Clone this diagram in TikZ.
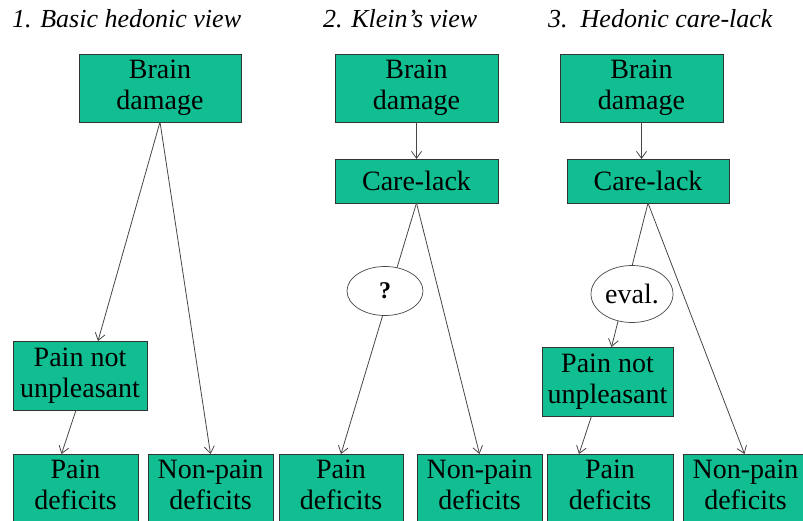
\documentclass[tikz,border=0pt]{standalone}
\usepackage{fontspec}
\setmainfont{Liberation Serif}
\usetikzlibrary{arrows.meta,calc,shapes.geometric}
\definecolor{boxgreen}{RGB}{16,190,145}
\definecolor{linegray}{RGB}{70,70,70}
\begin{document}
\begin{tikzpicture}[x=1pt,y=-1pt,
  box/.style={draw=black!80, line width=0.8pt, fill=boxgreen, anchor=north west,
    inner sep=0pt, outer sep=0pt, align=center,
    font=\fontsize{28}{31}\selectfont},
  lowbox/.style={box, minimum height=78pt, text depth=16pt},
  oval/.style={ellipse, draw=linegray, line width=0.7pt, fill=white,
    inner sep=0pt, outer sep=0pt},
  title/.style={anchor=base west, inner sep=0pt, font=\fontsize{26}{30}\selectfont\itshape},
  link/.style={draw=linegray, line width=0.8pt, -{Straight Barb[length=7pt,width=10pt]}}]
\useasboundingbox (0,0) rectangle (803,521);

% titles
\node[title] (t1) at (12,28) {1. Basic hedonic view};
\node[title] (t2) at (323,28) {2. Klein's view};
\node[title] (t3) at (548,28) {3.\ \ Hedonic care-lack};

% panel 1
\node[box, minimum width=162pt, minimum height=68pt] (bd1) at (79,54) {Brain\\damage};
\node[box, minimum width=134pt, minimum height=69pt] (pnu1) at (13,341) {Pain not\\unpleasant};
\node[lowbox, minimum width=125pt] (pd1) at (13,454) {Pain\\deficits};
\node[lowbox, minimum width=125pt] (npd1) at (148,454) {Non-pain\\deficits};

% panel 2
\node[box, minimum width=163pt, minimum height=68pt] (bd2) at (335,54) {Brain\\damage};
\node[box, minimum width=163pt, minimum height=44pt] (cl2) at (335,159) {Care-lack};
\node[lowbox, minimum width=124pt] (pd2) at (279,454) {Pain\\deficits};
\node[lowbox, minimum width=125pt] (npd2) at (417,454) {Non-pain\\deficits};

% panel 3
\node[box, minimum width=163pt, minimum height=68pt] (bd3) at (560,54) {Brain\\damage};
\node[box, minimum width=162pt, minimum height=44pt] (cl3) at (567,159) {Care-lack};
\node[box, minimum width=131pt, minimum height=69pt] (pnu3) at (542,347) {Pain not\\unpleasant};
\node[lowbox, minimum width=126pt] (pd3) at (547,454) {Pain\\deficits};
\node[lowbox, minimum width=125pt] (npd3) at (683,454) {Non-pain\\deficits};

% connectors panel 1
\draw[link] (bd1.south) -- ($(pnu1.north)+(18,0)$);
\draw[link] (bd1.south) -- (npd1.north);
\draw[link] ($(pnu1.south)+(-4,0)$) -- ($(pd1.north)+(-14,0)$);

% connectors panel 2
\draw[link] (bd2.south) -- (cl2.north);
\draw[link] (cl2.south) -- (pd2.north);
\draw[link] (cl2.south) -- (npd2.north);

% connectors panel 3
\draw[link] (bd3.south) -- (bd3.south |- cl3.north);
\draw[link] (cl3.south) -- ($(pnu3.north)+(4,0)$);
\draw[link] (cl3.south) -- ($(npd3.north)+(-1,0)$);
\draw[link] ($(pnu3.south)+(-16,0)$) -- ($(pd3.north)+(-31,0)$);

% ellipses on top of the lines
\node[oval, minimum width=76pt, minimum height=49pt, font=\fontsize{24}{28}\selectfont\bfseries] (q2) at (385,291) {?};
\node[oval, minimum width=82pt, minimum height=57pt, font=\fontsize{28}{31}\selectfont] (ev3) at (632,294) {eval.};
\end{tikzpicture}
\end{document}
